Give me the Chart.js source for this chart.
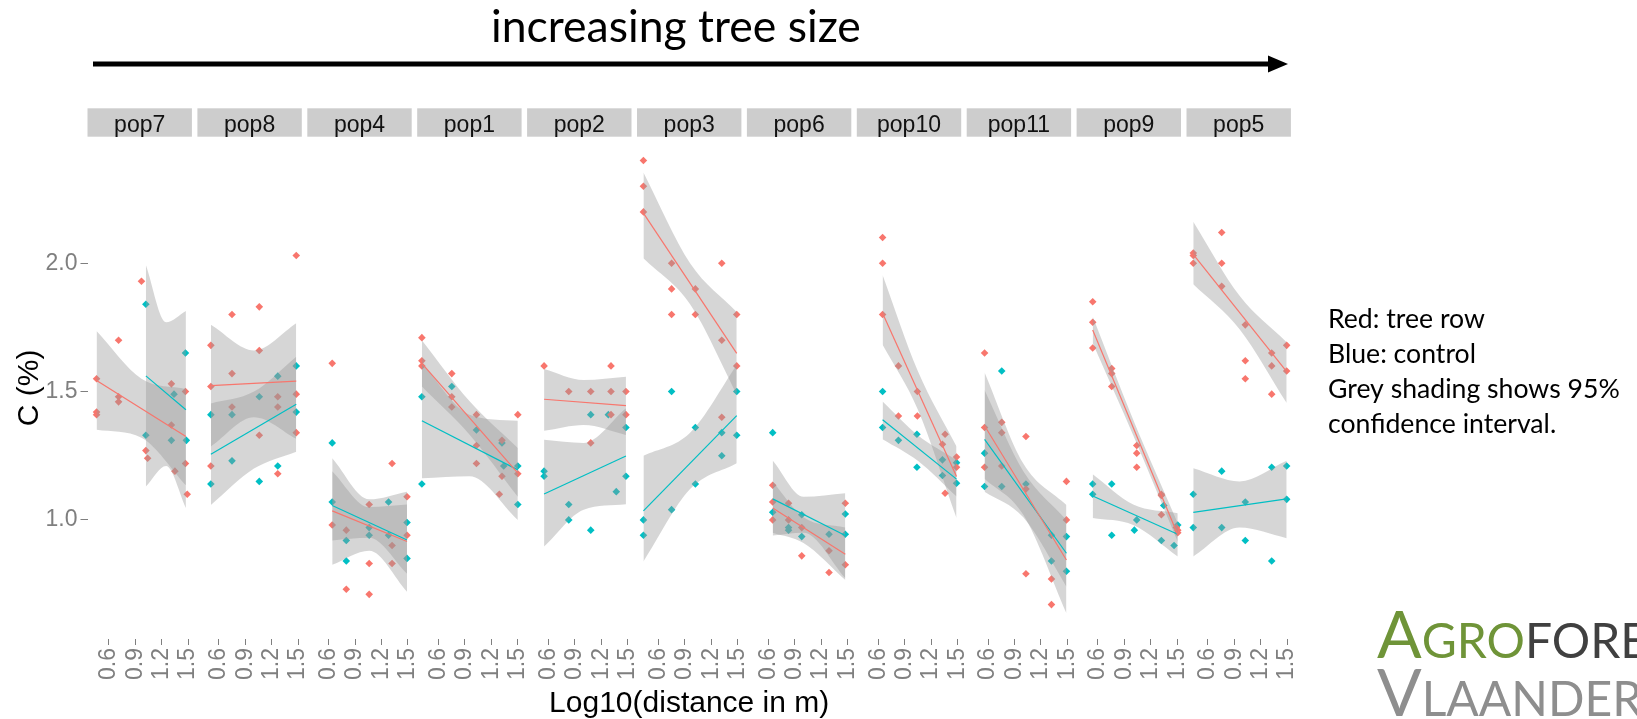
<!DOCTYPE html>
<html><head><meta charset="utf-8">
<script src="https://cdn.jsdelivr.net/npm/chart.js@4.4.1/dist/chart.umd.min.js"></script>
<style>html,body{margin:0;padding:0;background:#fff;overflow:hidden}canvas{display:block}</style>
</head><body>
<canvas id="c" width="1637" height="719"></canvas>
<script>
// ---- categories & ticks ----
const panels = ["pop7","pop8","pop4","pop1","pop2","pop3","pop6","pop10","pop11","pop9","pop5"];
const xTicks = [0.6, 0.9, 1.2, 1.5];
const yTicks = [1.0, 1.5, 2.0];

// ---- tree row (red) points [log10 distance, C%] per panel ----
const redPoints = [
  [[.46,1.55],[.46,1.42],[.46,1.41],[.71,1.70],[.71,1.48],[.71,1.46],[.97,1.93],[1.02,1.27],[1.04,1.24],[1.31,1.53],[1.31,1.37],[1.35,1.19],[1.47,1.50],[1.47,1.22],[1.49,1.10]],
  [[.51,1.68],[.51,1.52],[.51,1.21],[.75,1.80],[.75,1.57],[.75,1.44],[1.06,1.83],[1.06,1.66],[1.06,1.33],[1.27,1.48],[1.27,1.44],[1.27,1.18],[1.48,2.03],[1.48,1.49],[1.48,1.34]],
  [[.64,1.61],[.64,0.98],[.80,0.96],[.80,0.73],[1.06,1.06],[1.06,0.83],[1.06,0.71],[1.32,1.22],[1.32,0.90],[1.32,0.83],[1.49,1.09],[1.49,0.94]],
  [[.41,1.71],[.41,1.62],[.41,1.60],[.75,1.57],[.75,1.48],[.75,1.44],[1.03,1.41],[1.03,1.29],[1.03,1.22],[1.32,1.31],[1.32,1.17],[1.29,1.10],[1.50,1.41],[1.50,1.18]],
  [[.55,1.60],[.83,1.50],[1.08,1.50],[1.08,1.30],[1.31,1.60],[1.31,1.50],[1.31,1.41],[1.48,1.50],[1.48,1.41]],
  [[.43,2.40],[.43,2.30],[.43,2.20],[.75,2.00],[.75,1.90],[.75,1.80],[1.02,1.90],[1.02,1.80],[1.32,2.00],[1.32,1.70],[1.32,1.40],[1.49,1.80],[1.49,1.60]],
  [[.65,1.135],[.65,1.07],[.65,1.00],[.83,1.065],[.83,1.00],[.98,0.97],[.98,0.86],[1.29,0.88],[1.29,0.795],[1.475,1.065],[1.475,0.825]],
  [[.65,2.10],[.65,2.00],[.65,1.80],[.83,1.60],[.83,1.405],[1.045,1.50],[1.045,1.405],[1.36,1.334],[1.33,1.295],[1.49,1.245],[1.49,1.205],[1.36,1.104]],
  [[.56,1.65],[.56,1.36],[.56,1.205],[.755,1.38],[.755,1.34],[.755,1.21],[1.03,1.325],[1.03,1.12],[1.03,0.79],[1.32,0.77],[1.32,0.67],[1.49,1.15],[1.49,1.00]],
  [[.54,1.85],[.54,1.77],[.54,1.67],[.756,1.59],[.756,1.57],[.756,1.52],[1.04,1.29],[1.04,1.26],[1.04,1.205],[1.32,1.10],[1.32,1.095],[1.32,1.02],[1.506,0.96],[1.506,0.95],[1.49,0.97]],
  [[.434,2.04],[.434,2.03],[.434,2.00],[.757,2.12],[.757,2.00],[.757,1.91],[1.025,1.76],[1.025,1.62],[1.025,1.55],[1.325,1.65],[1.325,1.60],[1.325,1.49],[1.495,1.68],[1.495,1.58]]
];

// ---- control (blue) points ----
const bluePoints = [
  [[1.02,1.84],[1.02,1.33],[1.34,1.49],[1.31,1.31],[1.47,1.65],[1.48,1.31]],
  [[.51,1.41],[.51,1.14],[.75,1.41],[.75,1.23],[1.06,1.48],[1.06,1.15],[1.27,1.56],[1.27,1.21],[1.48,1.60],[1.48,1.42]],
  [[.64,1.30],[.64,1.07],[.80,0.92],[.80,0.84],[1.06,0.97],[1.06,0.94],[1.28,1.07],[1.28,0.94],[1.49,0.99],[1.49,0.85]],
  [[.41,1.48],[.41,1.14],[.75,1.52],[1.03,1.35],[1.32,1.30],[1.34,1.21],[1.50,1.21],[1.50,1.06]],
  [[.55,1.19],[.55,1.17],[.83,1.06],[.83,1.00],[1.08,1.41],[1.08,0.96],[1.28,1.41],[1.37,1.11],[1.48,1.36],[1.48,1.17]],
  [[.43,1.00],[.43,0.94],[.75,1.50],[.75,1.04],[1.02,1.36],[1.02,1.14],[1.32,1.34],[1.32,1.25],[1.49,1.50],[1.49,1.33]],
  [[.65,1.34],[.65,1.03],[.83,0.97],[.83,0.96],[.98,1.02],[.98,0.935],[1.29,0.944],[1.475,1.023],[1.475,0.944]],
  [[.65,1.50],[.65,1.36],[.83,1.31],[1.04,1.334],[1.04,1.205],[1.33,1.234],[1.33,1.173],[1.49,1.223],[1.49,1.143]],
  [[.56,1.26],[.56,1.13],[.755,1.58],[.755,1.13],[1.03,1.14],[1.32,0.94],[1.32,0.84],[1.49,0.935],[1.49,0.80]],
  [[.54,1.14],[.54,1.10],[.756,1.14],[.756,0.94],[1.04,1.00],[1.013,0.96],[1.347,1.056],[1.32,0.92],[1.506,0.98],[1.464,0.90]],
  [[.434,1.10],[.434,0.97],[.757,1.19],[.757,0.97],[1.025,1.07],[1.025,0.92],[1.325,1.205],[1.325,0.84],[1.495,1.21],[1.495,1.08]]
];

// ---- fitted lines [x1, y1, x2, y2] ----
const redLines = [
  [.46,1.543,1.475,1.325],[.51,1.523,1.48,1.541],[.64,1.035,1.49,0.916],[.41,1.610,1.50,1.182],
  [.55,1.470,1.48,1.445],[.43,2.195,1.49,1.649],[.65,1.046,1.475,0.866],[.65,1.805,1.49,1.169],
  [.56,1.367,1.49,0.844],[.54,1.740,1.506,0.942],[.434,2.035,1.495,1.578]
];
const blueLines = [
  [1.02,1.561,1.475,1.429],[.51,1.256,1.48,1.451],[.64,1.056,1.49,0.922],[.41,1.386,1.50,1.195],
  [.55,1.101,1.48,1.249],[.43,1.035,1.49,1.406],[.65,1.082,1.475,0.939],[.65,1.390,1.49,1.159],
  [.56,1.314,1.49,0.870],[.54,1.093,1.506,0.944],[.434,1.029,1.495,1.082]
];

// ---- 95% confidence bands [x, lower, upper] ----
const redBands = [
  [[.46,1.351,1.736],[.97,1.32,1.55],[1.475,1.135,1.51]],
  [[.51,1.286,1.76],[1.0,1.40,1.66],[1.48,1.316,1.766]],
  [[.64,0.825,1.24],[1.06,0.88,1.08],[1.49,0.72,1.11]],
  [[.41,1.52,1.70],[.95,1.333,1.463],[1.50,1.09,1.28]],
  [[.55,1.347,1.588],[1.0,1.37,1.545],[1.48,1.331,1.558]],
  [[.43,2.019,2.354],[.96,1.84,2.0],[1.49,1.49,1.81]],
  [[.65,0.95,1.15],[1.0,0.91,1.01],[1.475,0.766,0.97]],
  [[.65,1.682,1.954],[1.05,1.43,1.58],[1.49,1.007,1.286]],
  [[.56,1.16,1.574],[1.0,1.02,1.22],[1.49,0.636,1.058]],
  [[.54,1.688,1.792],[1.0,1.33,1.39],[1.506,0.915,0.987]],
  [[.434,1.918,2.162],[.96,1.743,1.873],[1.495,1.455,1.692]]
];
const blueBands = [
  [[1.02,1.13,1.993],[1.25,1.21,1.77],[1.475,1.046,1.814]],
  [[.51,1.058,1.454],[1.0,1.20,1.50],[1.48,1.266,1.636]],
  [[.64,0.92,1.19],[1.06,0.93,1.05],[1.49,0.79,1.06]],
  [[.41,1.162,1.61],[.95,1.17,1.41],[1.50,1.0,1.386]],
  [[.55,0.896,1.312],[1.0,1.04,1.30],[1.48,1.061,1.435]],
  [[.43,0.838,1.25],[.96,1.12,1.34],[1.49,1.221,1.604]],
  [[.65,0.939,1.231],[1.0,0.95,1.09],[1.475,0.773,1.104]],
  [[.65,1.314,1.461],[1.05,1.23,1.33],[1.49,1.091,1.234]],
  [[.56,1.11,1.506],[1.0,1.01,1.19],[1.49,0.74,1.0]],
  [[.54,1.007,1.178],[1.0,0.98,1.06],[1.506,0.857,1.026]],
  [[.434,0.857,1.201],[.96,0.97,1.15],[1.495,0.929,1.23]]
];

// ---- notes ----
const notes = ["Red: tree row", "Blue: control", "Grey shading shows 95%", "confidence interval."];

// ---- styling / layout ----
const RED = "#F8766D", BLUE = "#00BFC4", BAND = "rgba(153,153,153,0.4)";
const XMIN = 0.357, XMAX = 1.543, PERIOD = 1.2485;
const off = i => i * PERIOD;
const SANS = "'Liberation Sans', Arial, sans-serif";
Chart.defaults.font.family = SANS;

const datasets = [];
panels.forEach((p, i) => {
  datasets.push({type:'scatter', data: redPoints[i].map(([x,y]) => ({x: x + off(i), y})),
    backgroundColor: RED, borderWidth: 0, pointStyle: 'rectRot', pointRadius: 3.8, order: 3});
  datasets.push({type:'scatter', data: bluePoints[i].map(([x,y]) => ({x: x + off(i), y})),
    backgroundColor: BLUE, borderWidth: 0, pointStyle: 'rectRot', pointRadius: 3.8, order: 3});
});
panels.forEach((p, i) => {
  [redBands[i], blueBands[i]].forEach(b => {
    datasets.push({type:'line', data: b.map(([x,lo]) => ({x: x + off(i), y: lo})),
      borderColor: 'rgba(0,0,0,0)', pointRadius: 0, fill: false, cubicInterpolationMode: 'monotone', order: 2});
    datasets.push({type:'line', data: b.map(([x,lo,hi]) => ({x: x + off(i), y: hi})),
      borderColor: 'rgba(0,0,0,0)', pointRadius: 0, fill: '-1', backgroundColor: BAND, cubicInterpolationMode: 'monotone', order: 2});
  });
});
panels.forEach((p, i) => {
  [[redLines[i], RED], [blueLines[i], BLUE]].forEach(([l, c]) => {
    datasets.push({type:'line', data: [{x: l[0] + off(i), y: l[1]}, {x: l[2] + off(i), y: l[3]}],
      borderColor: c, borderWidth: 1.2, pointRadius: 0, fill: false, order: 1});
  });
});

function fitFont(ctx, text, width, family, weight) {
  ctx.font = `${weight||''} 100px ${family}`;
  return 100 * width / ctx.measureText(text).width;
}

const decor = {
  id: 'decor',
  afterDraw(chart) {
    const ctx = chart.ctx, xs = chart.scales.x;
    ctx.save();
    // facet strips
    panels.forEach((p, i) => {
      const x1 = xs.getPixelForValue(XMIN + off(i)), x2 = xs.getPixelForValue(XMAX + off(i));
      ctx.fillStyle = '#cdcdcd';
      ctx.fillRect(x1, 108.3, x2 - x1, 28.4);
      ctx.fillStyle = '#111';
      ctx.font = `23px ${SANS}`;
      ctx.textAlign = 'center'; ctx.textBaseline = 'alphabetic';
      ctx.fillText(p, (x1 + x2) / 2, 131.5);
    });
    // title + arrow
    const LATO = "Lato, 'Open Sans', sans-serif";
    const title = "increasing tree size";
    const ts = fitFont(ctx, title, 370, LATO);
    ctx.font = `${ts}px ${LATO}`;
    ctx.fillStyle = '#000';
    ctx.textAlign = 'left';
    ctx.fillText(title, 491, 42);
    ctx.fillRect(93, 61.5, 1176, 5);
    ctx.beginPath();
    ctx.moveTo(1268, 55.5); ctx.lineTo(1288, 64); ctx.lineTo(1268, 72.5); ctx.closePath();
    ctx.fill();
    // notes
    const ns = fitFont(ctx, notes[2], 292, LATO);
    ctx.font = `${ns}px ${LATO}`;
    notes.forEach((t, k) => ctx.fillText(t, 1328, 328.3 + 35 * k));
    // logo
    let x = 1377;
    const big = `66px ${LATO}`, small = `48px ${LATO}`;
    const part = (t, f, c, y) => { ctx.font = f; ctx.fillStyle = c; ctx.fillText(t, x, y); x += ctx.measureText(t).width; };
    part("A", big, '#6f9438', 658); part("GRO", small, '#6f9438', 658); part("FORESTRY", small, '#404040', 658);
    x = 1377;
    part("V", big, '#8e8e8e', 716); part("LAANDEREN", small, '#8e8e8e', 716);
    ctx.restore();
  }
};

new Chart(document.getElementById('c'), {
  type: 'scatter',
  data: {datasets},
  options: {
    responsive: false, animation: false, devicePixelRatio: 1,
    layout: {padding: {top: 136.7, right: 346.1, left: 0, bottom: 0}},
    plugins: {legend: {display: false}, tooltip: {enabled: false}},
    scales: {
      x: {
        type: 'linear', min: XMIN, max: XMAX + off(panels.length - 1),
        afterBuildTicks: s => { s.ticks = []; panels.forEach((p, i) => xTicks.forEach(t => s.ticks.push({value: t + off(i)}))); },
        afterFit: s => { s.height = 80; },
        ticks: {autoSkip: false, minRotation: 90, maxRotation: 90, padding: 3, color: '#7f7f7f', font: {size: 23},
          callback: (v, idx) => xTicks[idx % xTicks.length].toFixed(1)},
        grid: {drawOnChartArea: false, tickLength: 6, color: '#7f7f7f'},
        border: {display: false},
        title: {display: true, text: 'Log10(distance in m)', color: '#000', font: {size: 30, lineHeight: 1}, padding: 0}
      },
      y: {
        type: 'linear', min: 0.536, max: 2.493,
        afterBuildTicks: s => { s.ticks = yTicks.map(v => ({value: v})); },
        afterFit: s => { s.width = 87.5; },
        ticks: {padding: 3, color: '#7f7f7f', font: {size: 23}, callback: v => v.toFixed(1)},
        grid: {drawOnChartArea: false, tickLength: 7, color: '#7f7f7f'},
        border: {display: false},
        title: {display: true, text: 'C (%)', color: '#000', font: {size: 30}, padding: {top: 12, bottom: 0}}
      }
    }
  },
  plugins: [decor]
});
</script>
</body></html>
